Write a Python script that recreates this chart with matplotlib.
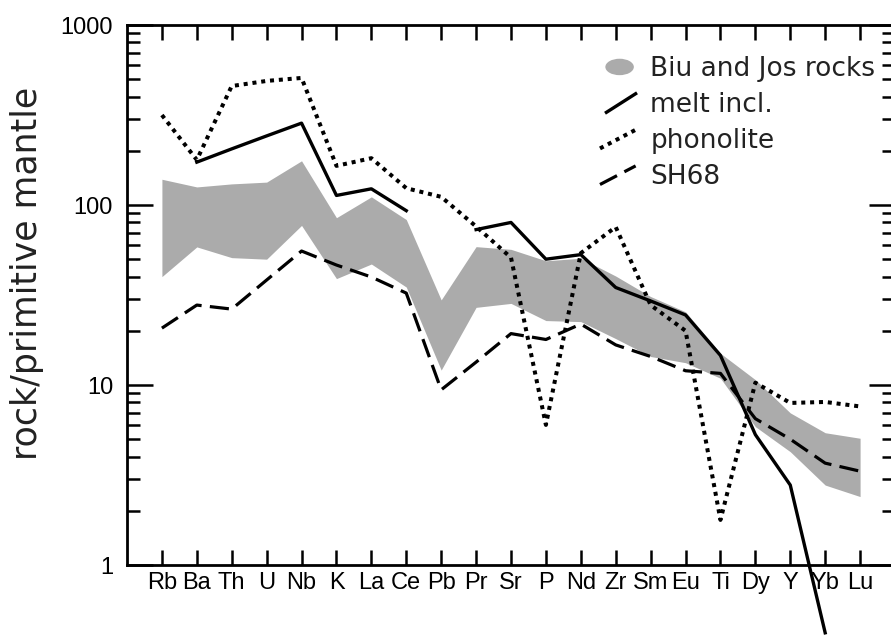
import numpy as np
import matplotlib
matplotlib.use("Agg")
import matplotlib.pyplot as plt
from matplotlib.lines import Line2D
from matplotlib.patches import Ellipse
from matplotlib.legend_handler import HandlerBase
from matplotlib.ticker import LogLocator, NullFormatter, FixedLocator

nan = np.nan
categories = ['Rb', 'Ba', 'Th', 'U', 'Nb', 'K', 'La', 'Ce', 'Pb', 'Pr', 'Sr',
              'P', 'Nd', 'Zr', 'Sm', 'Eu', 'Ti', 'Dy', 'Y', 'Yb', 'Lu']

band_upper = [139, 126, 131, 134, 176, 85, 111, 83, 29.7, 58.7, 56.7,
              49, 50.6, 40.3, 31, 25.5, 15, 10.7, 7.0, 5.43, 5.06]
band_lower = [40, 58.5, 51, 50, 77, 39, 47, 35, 12.1, 27, 28.4,
              22.8, 22.5, 18.1, 14.4, 13.3, 10.9, 5.87, 4.26, 2.78, 2.4]
melt_incl = [nan, 173, 205, 242, 285, 113, 123, 93, nan, 73, 80,
             50, 53, 34.8, 29.3, 24.5, 14.6, 5.3, 2.78, 0.42, nan]
phonolite = [316, 178, 458, 489, 508, 165, 182, 124, 111, 76, 51,
             6.0, 54, 75.5, 27.8, 20.0, 1.78, 10.3, 7.95, 8.05, 7.6]
sh68 = [20.7, 27.8, 26.4, 38.3, 55.5, 46.4, 39.8, 32.4, 9.4, 13.4, 19.3,
        17.9, 21.8, 16.7, 14.4, 12.0, 11.6, 6.5, 5.0, 3.68, 3.32]

legend_labels = ['Biu and Jos rocks', 'melt incl.', 'phonolite', 'SH68']
ytick_values = [1, 10, 100, 1000]
ytick_labels = ['1', '10', '100', '1000']

gray = '#ababab'
ink = '#000000'

fig = plt.figure(figsize=(8.91, 6.35), dpi=100)
ax = fig.add_axes([127/891, (635-565)/635, 768/891, 540/635])

x = np.arange(len(categories))
ax.fill_between(x, band_lower, band_upper, color=gray, lw=0, zorder=1)
ax.plot(x, sh68, color=ink, lw=2.3, linestyle=(0, (6, 2.6)), zorder=3)
ax.plot(x, phonolite, color=ink, lw=2.9, linestyle=(0, (1, 1.2)), zorder=3)
ax.plot(x, melt_incl, color=ink, lw=2.4, linestyle='-', zorder=4, clip_on=False)

ax.set_yscale('log')
ax.set_ylim(1, 1000)
ax.set_xlim(-1, 21)

ax.yaxis.set_major_locator(FixedLocator(ytick_values))
ax.set_yticklabels(ytick_labels)
ax.yaxis.set_minor_locator(LogLocator(base=10, subs=np.arange(2, 10)))
ax.yaxis.set_minor_formatter(NullFormatter())

ax.set_xticks(x)
ax.set_xticklabels(categories, fontsize=17, family='Liberation Sans')

ax.tick_params(axis='x', which='major', direction='in', length=11, width=1.8,
               top=True, bottom=True, pad=5)
ax.tick_params(axis='y', which='major', direction='in', length=19, width=1.8,
               left=True, right=True, pad=10, labelsize=17)
ax.tick_params(axis='y', which='minor', direction='in', length=9.5, width=1.8,
               left=True, right=True)
for lab in ax.get_yticklabels():
    lab.set_family('Liberation Sans')

for s in ax.spines.values():
    s.set_linewidth(2)

ax.set_ylabel('rock/primitive mantle', fontsize=25, family='DejaVu Sans',
              labelpad=10, color='#222222')
ax.yaxis.set_label_coords(-0.108, 0.54)


class HandlerDiag(HandlerBase):
    def __init__(self, rise=0.9, frac=1.0, **kw):
        super().__init__(**kw)
        self.rise = rise
        self.frac = frac

    def create_artists(self, legend, orig_handle, xdescent, ydescent,
                       width, height, fontsize, trans):
        x0 = -xdescent + width * (1 - self.frac)
        x1 = -xdescent + width
        yc = -ydescent + height / 2
        l = Line2D([x0, x1], [yc - self.rise * height / 2, yc + self.rise * height / 2])
        self.update_prop(l, orig_handle, legend)
        l.set_transform(trans)
        return [l]


class HandlerEll(HandlerBase):
    def create_artists(self, legend, orig_handle, xdescent, ydescent,
                       width, height, fontsize, trans):
        e = Ellipse((-xdescent + width * 0.55, -ydescent + height / 2),
                    width * 0.8, height * 0.75, facecolor=gray, edgecolor='none',
                    transform=trans)
        return [e]


h_band = Ellipse((0, 0), 1, 1, facecolor=gray)
h_melt = Line2D([], [], color=ink, lw=2.4)
h_phon = Line2D([], [], color=ink, lw=2.9, linestyle=(0, (1, 1.2)))
h_sh = Line2D([], [], color=ink, lw=2.3, linestyle=(0, (6, 2.6)))

leg = ax.legend([h_band, h_melt, h_phon, h_sh], legend_labels,
                handler_map={h_band: HandlerEll(),
                             h_melt: HandlerDiag(rise=0.85, frac=0.82),
                             h_phon: HandlerDiag(rise=0.85),
                             h_sh: HandlerDiag(rise=0.85)},
                loc='upper left', bbox_to_anchor=(600/891, 1 - 56/635),
                bbox_transform=fig.transFigure, frameon=False,
                prop={'family': 'DejaVu Sans', 'size': 19},
                handlelength=1.35, handleheight=0.9, handletextpad=0.55,
                labelspacing=0.38, borderpad=0, borderaxespad=0)
for t in leg.get_texts():
    t.set_color('#222222')

fig.savefig('out.png', dpi=100)
